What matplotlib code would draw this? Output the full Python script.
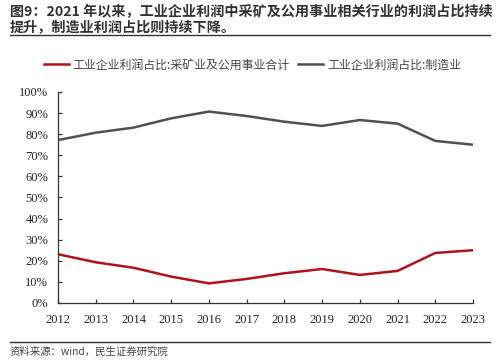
import matplotlib
matplotlib.use("Agg")
import matplotlib.pyplot as plt
from matplotlib.lines import Line2D
from matplotlib.ticker import PercentFormatter

# 工业企业利润占比（%）
years = list(range(2012, 2024))
mining_util = [23.1, 19.3, 16.7, 12.5, 9.3, 11.4, 14.1, 16.1, 13.3, 15.2, 23.7, 25.0]
manufacturing = [77.2, 80.7, 83.1, 87.5, 90.7, 88.6, 85.9, 83.9, 86.7, 85.0, 76.8, 75.0]

label_mining = "工业企业利润占比:采矿业及公用事业合计"
label_manu = "工业企业利润占比:制造业"
title_1 = "图9：2021 年以来，工业企业利润中采矿及公用事业相关行业的利润占比持续"
title_2 = "提升，制造业利润占比则持续下降。"
source = "资料来源：wind，民生证券研究院"

CJK = ["Noto Sans CJK SC", "DejaVu Sans"]
RED = "#B0121B"
GRAY = "#505050"

fig = plt.figure(figsize=(5.0, 3.62), dpi=100)
ax = fig.add_axes([0.116, 0.163, 0.83, 0.583])

ax.plot(years, mining_util, color=RED, lw=1.8)
ax.plot(years, manufacturing, color=GRAY, lw=1.8)

ax.set_xlim(2012, 2023)
ax.set_ylim(0, 100)
ax.set_yticks(range(0, 101, 10))
ax.set_xticks(years)
ax.yaxis.set_major_formatter(PercentFormatter(decimals=0))

for s in ["top", "right"]:
    ax.spines[s].set_visible(False)
for s in ["left", "bottom"]:
    ax.spines[s].set_color("#333333")
    ax.spines[s].set_linewidth(0.9)
ax.tick_params(direction="in", length=3, width=0.9, color="#333333",
               labelsize=9, labelcolor="#222222")
ax.tick_params(axis="x", pad=8)
ax.tick_params(axis="y", pad=7)
for lab in ax.get_xticklabels() + ax.get_yticklabels():
    lab.set_fontfamily("Liberation Serif")

handles = [Line2D([], [], color=RED, lw=1.8), Line2D([], [], color=GRAY, lw=1.8)]
fig.legend(handles, [label_mining, label_manu], loc="center", bbox_to_anchor=(0.505, 0.82),
           ncol=2, frameon=False, prop={"family": CJK, "size": 8.6},
           handlelength=2.1, handletextpad=0.3, columnspacing=0.7, labelcolor="#444444")

fig.text(0.02, 1 - 12 / 362, title_1, ha="left", va="center", fontsize=10.15, fontweight="bold",
         family=CJK, color="#333333")
fig.text(0.02, 1 - 27 / 362, title_2, ha="left", va="center", fontsize=10.15, fontweight="bold",
         family=CJK, color="#333333")
fig.add_artist(Line2D([0.02, 0.98], [0.903, 0.903], color="#333333", lw=1.0))
fig.add_artist(Line2D([0.02, 0.98], [0.056, 0.056], color="#333333", lw=1.0))
fig.text(0.02, 0.028, source, ha="left", va="center", fontsize=7.5, family=CJK, color="#444444")

fig.savefig("out.png", dpi=100, facecolor="white")
